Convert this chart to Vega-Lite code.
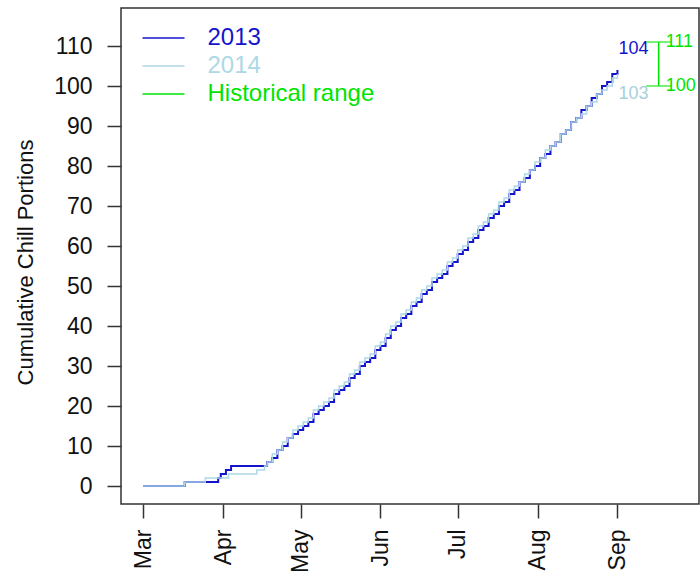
{
  "$schema": "https://vega.github.io/schema/vega-lite/v6.json",
  "width": 578,
  "height": 496,
  "autosize": {"type": "none"},
  "padding": {"left": 121, "top": 8, "right": 1, "bottom": 76},
  "background": "white",
  "config": {
    "font": "Liberation Sans",
    "view": {"stroke": "#333", "strokeWidth": 1.5},
    "axis": {"grid": false, "domain": false, "tickColor": "#333", "tickWidth": 1.5, "tickSize": 14, "labelFontSize": 23, "labelColor": "#111", "labelFont": "Liberation Sans"}
  },
  "datasets": {
    "lines": [
      {"s": "2013", "d": "2001-03-01", "v": 0}, {"s": "2013", "d": "2001-03-17", "v": 1}, {"s": "2013", "d": "2001-03-30", "v": 2}, {"s": "2013", "d": "2001-03-31", "v": 3}, {"s": "2013", "d": "2001-04-02", "v": 4}, {"s": "2013", "d": "2001-04-04", "v": 5}, {"s": "2013", "d": "2001-04-18", "v": 6}, {"s": "2013", "d": "2001-04-20", "v": 7}, {"s": "2013", "d": "2001-04-22", "v": 9}, {"s": "2013", "d": "2001-04-24", "v": 10}, {"s": "2013", "d": "2001-04-26", "v": 12}, {"s": "2013", "d": "2001-04-28", "v": 13}, {"s": "2013", "d": "2001-04-30", "v": 14},
      {"s": "2013", "d": "2001-05-02", "v": 15}, {"s": "2013", "d": "2001-05-04", "v": 16}, {"s": "2013", "d": "2001-05-06", "v": 18}, {"s": "2013", "d": "2001-05-08", "v": 19}, {"s": "2013", "d": "2001-05-10", "v": 20}, {"s": "2013", "d": "2001-05-12", "v": 21}, {"s": "2013", "d": "2001-05-14", "v": 23}, {"s": "2013", "d": "2001-05-16", "v": 24}, {"s": "2013", "d": "2001-05-18", "v": 25}, {"s": "2013", "d": "2001-05-20", "v": 27}, {"s": "2013", "d": "2001-05-22", "v": 28}, {"s": "2013", "d": "2001-05-24", "v": 30}, {"s": "2013", "d": "2001-05-26", "v": 31}, {"s": "2013", "d": "2001-05-28", "v": 32}, {"s": "2013", "d": "2001-05-30", "v": 34},
      {"s": "2013", "d": "2001-06-01", "v": 35}, {"s": "2013", "d": "2001-06-03", "v": 37}, {"s": "2013", "d": "2001-06-05", "v": 39}, {"s": "2013", "d": "2001-06-07", "v": 40}, {"s": "2013", "d": "2001-06-09", "v": 42}, {"s": "2013", "d": "2001-06-11", "v": 43}, {"s": "2013", "d": "2001-06-13", "v": 45}, {"s": "2013", "d": "2001-06-15", "v": 46}, {"s": "2013", "d": "2001-06-17", "v": 48}, {"s": "2013", "d": "2001-06-19", "v": 49}, {"s": "2013", "d": "2001-06-21", "v": 51}, {"s": "2013", "d": "2001-06-23", "v": 52}, {"s": "2013", "d": "2001-06-25", "v": 53}, {"s": "2013", "d": "2001-06-27", "v": 55}, {"s": "2013", "d": "2001-06-29", "v": 56},
      {"s": "2013", "d": "2001-07-01", "v": 58}, {"s": "2013", "d": "2001-07-03", "v": 59}, {"s": "2013", "d": "2001-07-05", "v": 61}, {"s": "2013", "d": "2001-07-07", "v": 62}, {"s": "2013", "d": "2001-07-09", "v": 64}, {"s": "2013", "d": "2001-07-11", "v": 65}, {"s": "2013", "d": "2001-07-13", "v": 67}, {"s": "2013", "d": "2001-07-15", "v": 68}, {"s": "2013", "d": "2001-07-17", "v": 70}, {"s": "2013", "d": "2001-07-19", "v": 71}, {"s": "2013", "d": "2001-07-21", "v": 73}, {"s": "2013", "d": "2001-07-23", "v": 74}, {"s": "2013", "d": "2001-07-25", "v": 76}, {"s": "2013", "d": "2001-07-27", "v": 77}, {"s": "2013", "d": "2001-07-29", "v": 79}, {"s": "2013", "d": "2001-07-31", "v": 80},
      {"s": "2013", "d": "2001-08-02", "v": 82}, {"s": "2013", "d": "2001-08-04", "v": 83}, {"s": "2013", "d": "2001-08-06", "v": 85}, {"s": "2013", "d": "2001-08-08", "v": 86}, {"s": "2013", "d": "2001-08-10", "v": 88}, {"s": "2013", "d": "2001-08-12", "v": 89}, {"s": "2013", "d": "2001-08-14", "v": 91}, {"s": "2013", "d": "2001-08-16", "v": 92}, {"s": "2013", "d": "2001-08-18", "v": 94}, {"s": "2013", "d": "2001-08-20", "v": 95}, {"s": "2013", "d": "2001-08-22", "v": 97}, {"s": "2013", "d": "2001-08-24", "v": 98}, {"s": "2013", "d": "2001-08-26", "v": 100}, {"s": "2013", "d": "2001-08-28", "v": 101}, {"s": "2013", "d": "2001-08-30", "v": 103}, {"s": "2013", "d": "2001-09-01", "v": 104},
      {"s": "2014", "d": "2001-03-01", "v": 0}, {"s": "2014", "d": "2001-03-17", "v": 1}, {"s": "2014", "d": "2001-03-25", "v": 2}, {"s": "2014", "d": "2001-04-03", "v": 3}, {"s": "2014", "d": "2001-04-14", "v": 4}, {"s": "2014", "d": "2001-04-17", "v": 5}, {"s": "2014", "d": "2001-04-18", "v": 6}, {"s": "2014", "d": "2001-04-20", "v": 8}, {"s": "2014", "d": "2001-04-22", "v": 9}, {"s": "2014", "d": "2001-04-24", "v": 11}, {"s": "2014", "d": "2001-04-26", "v": 12}, {"s": "2014", "d": "2001-04-28", "v": 14}, {"s": "2014", "d": "2001-04-30", "v": 15},
      {"s": "2014", "d": "2001-05-02", "v": 16}, {"s": "2014", "d": "2001-05-04", "v": 17}, {"s": "2014", "d": "2001-05-06", "v": 19}, {"s": "2014", "d": "2001-05-08", "v": 20}, {"s": "2014", "d": "2001-05-10", "v": 21}, {"s": "2014", "d": "2001-05-12", "v": 22}, {"s": "2014", "d": "2001-05-14", "v": 24}, {"s": "2014", "d": "2001-05-16", "v": 25}, {"s": "2014", "d": "2001-05-18", "v": 26}, {"s": "2014", "d": "2001-05-20", "v": 28}, {"s": "2014", "d": "2001-05-22", "v": 29}, {"s": "2014", "d": "2001-05-24", "v": 31}, {"s": "2014", "d": "2001-05-26", "v": 32}, {"s": "2014", "d": "2001-05-28", "v": 33}, {"s": "2014", "d": "2001-05-30", "v": 35},
      {"s": "2014", "d": "2001-06-01", "v": 36}, {"s": "2014", "d": "2001-06-03", "v": 38}, {"s": "2014", "d": "2001-06-05", "v": 40}, {"s": "2014", "d": "2001-06-07", "v": 41}, {"s": "2014", "d": "2001-06-09", "v": 43}, {"s": "2014", "d": "2001-06-11", "v": 44}, {"s": "2014", "d": "2001-06-13", "v": 46}, {"s": "2014", "d": "2001-06-15", "v": 47}, {"s": "2014", "d": "2001-06-17", "v": 49}, {"s": "2014", "d": "2001-06-19", "v": 50}, {"s": "2014", "d": "2001-06-21", "v": 52}, {"s": "2014", "d": "2001-06-23", "v": 53}, {"s": "2014", "d": "2001-06-25", "v": 54}, {"s": "2014", "d": "2001-06-27", "v": 56}, {"s": "2014", "d": "2001-06-29", "v": 57},
      {"s": "2014", "d": "2001-07-01", "v": 59}, {"s": "2014", "d": "2001-07-03", "v": 60}, {"s": "2014", "d": "2001-07-05", "v": 62}, {"s": "2014", "d": "2001-07-07", "v": 63}, {"s": "2014", "d": "2001-07-09", "v": 65}, {"s": "2014", "d": "2001-07-11", "v": 66}, {"s": "2014", "d": "2001-07-13", "v": 68}, {"s": "2014", "d": "2001-07-15", "v": 69}, {"s": "2014", "d": "2001-07-17", "v": 71}, {"s": "2014", "d": "2001-07-19", "v": 72}, {"s": "2014", "d": "2001-07-21", "v": 74}, {"s": "2014", "d": "2001-07-23", "v": 75}, {"s": "2014", "d": "2001-07-25", "v": 76}, {"s": "2014", "d": "2001-07-27", "v": 78}, {"s": "2014", "d": "2001-07-29", "v": 79}, {"s": "2014", "d": "2001-07-31", "v": 81},
      {"s": "2014", "d": "2001-08-02", "v": 82}, {"s": "2014", "d": "2001-08-04", "v": 84}, {"s": "2014", "d": "2001-08-06", "v": 85}, {"s": "2014", "d": "2001-08-08", "v": 86}, {"s": "2014", "d": "2001-08-10", "v": 88}, {"s": "2014", "d": "2001-08-12", "v": 89}, {"s": "2014", "d": "2001-08-14", "v": 91}, {"s": "2014", "d": "2001-08-16", "v": 92}, {"s": "2014", "d": "2001-08-18", "v": 93}, {"s": "2014", "d": "2001-08-20", "v": 95}, {"s": "2014", "d": "2001-08-22", "v": 96}, {"s": "2014", "d": "2001-08-24", "v": 98}, {"s": "2014", "d": "2001-08-26", "v": 99}, {"s": "2014", "d": "2001-08-28", "v": 100}, {"s": "2014", "d": "2001-08-30", "v": 102}, {"s": "2014", "d": "2001-09-01", "v": 103}
    ],
    "ends": [
      {"s": "2013", "d": "2001-09-01", "v": 104},
      {"s": "2014", "d": "2001-09-01", "v": 103}
    ],
    "hist": [
      {"d": "2001-09-17", "v": 100},
      {"d": "2001-09-17", "v": 111}
    ]
  },
  "encoding": {
    "x": {
      "field": "d", "type": "temporal",
      "scale": {"type": "utc", "domain": [{"year": 2001, "month": 2, "date": 20, "hours": 6, "minutes": 30, "utc": true}, {"year": 2001, "month": 10, "date": 2, "hours": 16, "utc": true}]},
      "axis": {
        "title": null, "labelAngle": 270, "labelAlign": "right", "labelBaseline": "middle", "labelPadding": 11,
        "labelExpr": "utcFormat(datum.value, '%b')",
        "values": [
          {"year": 2001, "month": 3, "date": 1, "utc": true}, {"year": 2001, "month": 4, "date": 1, "utc": true}, {"year": 2001, "month": 5, "date": 1, "utc": true}, {"year": 2001, "month": 6, "date": 1, "utc": true}, {"year": 2001, "month": 7, "date": 1, "utc": true}, {"year": 2001, "month": 8, "date": 1, "utc": true}, {"year": 2001, "month": 9, "date": 1, "utc": true}
        ]
      }
    },
    "y": {
      "field": "v", "type": "quantitative",
      "scale": {"domain": [-4.5, 119.5], "nice": false, "zero": false},
      "axis": {
        "values": [0, 10, 20, 30, 40, 50, 60, 70, 80, 90, 100, 110],
        "labelPadding": 15,
        "title": "Cumulative Chill Portions", "titleFontSize": 22, "titleFont": "Liberation Sans", "titleFontWeight": "normal", "titleColor": "#111",
        "titleX": -89, "titleY": 254, "titleAngle": -90, "titleAlign": "center", "titleBaseline": "alphabetic"
      }
    }
  },
  "layer": [
    {
      "data": {"name": "lines"},
      "transform": [{"filter": "datum.s === '2013'"}],
      "mark": {"type": "line", "interpolate": "step-after", "strokeWidth": 2},
      "encoding": {
        "color": {
          "field": "s", "type": "nominal",
          "scale": {"domain": ["2013", "2014", "Historical range"], "range": ["#1414cc", "#add8e6", "#00e400"]},
          "legend": {
            "orient": "none", "legendX": 30.5, "legendY": 18, "title": null, "padding": 0, "offset": 0,
            "symbolType": "M-2,0H2", "symbolSize": 441, "symbolStrokeWidth": 1.5, "symbolFillColor": "transparent",
            "labelFontSize": 24, "labelFont": "Liberation Sans", "labelOffset": 32, "labelLimit": 400,
            "rowPadding": 4,
            "encode": {"labels": {"update": {"fill": {"signal": "scale('color', datum.value)"}}}}
          }
        }
      }
    },
    {
      "data": {"name": "lines"},
      "transform": [{"filter": "datum.s === '2014'"}],
      "mark": {"type": "line", "interpolate": "step-after", "strokeWidth": 1.5},
      "encoding": {"color": {"field": "s", "type": "nominal"}}
    },
    {
      "data": {"name": "ends"},
      "transform": [{"filter": "datum.s === '2013'"}],
      "mark": {"type": "text", "align": "left", "baseline": "middle", "dx": 1, "dy": -21, "fontSize": 18, "color": "#1414cc"},
      "encoding": {"text": {"field": "v", "type": "quantitative"}}
    },
    {
      "data": {"name": "ends"},
      "transform": [{"filter": "datum.s === '2014'"}],
      "mark": {"type": "text", "align": "left", "baseline": "middle", "dx": 1, "dy": 20, "fontSize": 18, "color": "#a9cfdc"},
      "encoding": {"text": {"field": "v", "type": "quantitative"}}
    },
    {
      "data": {"name": "hist"},
      "mark": {"type": "rule", "color": "#00e400", "strokeWidth": 1.5},
      "encoding": {
        "y": {"aggregate": "min", "field": "v", "type": "quantitative"},
        "y2": {"aggregate": "max", "field": "v"}
      }
    },
    {
      "data": {"name": "hist"},
      "mark": {"type": "tick", "orient": "horizontal", "color": "#00e400", "size": 25, "thickness": 1.5},
      "encoding": {}
    },
    {
      "data": {"name": "hist"},
      "mark": {"type": "text", "align": "left", "baseline": "middle", "dx": 7, "fontSize": 18, "color": "#00e400"},
      "encoding": {"text": {"field": "v", "type": "quantitative"}}
    }
  ]
}
